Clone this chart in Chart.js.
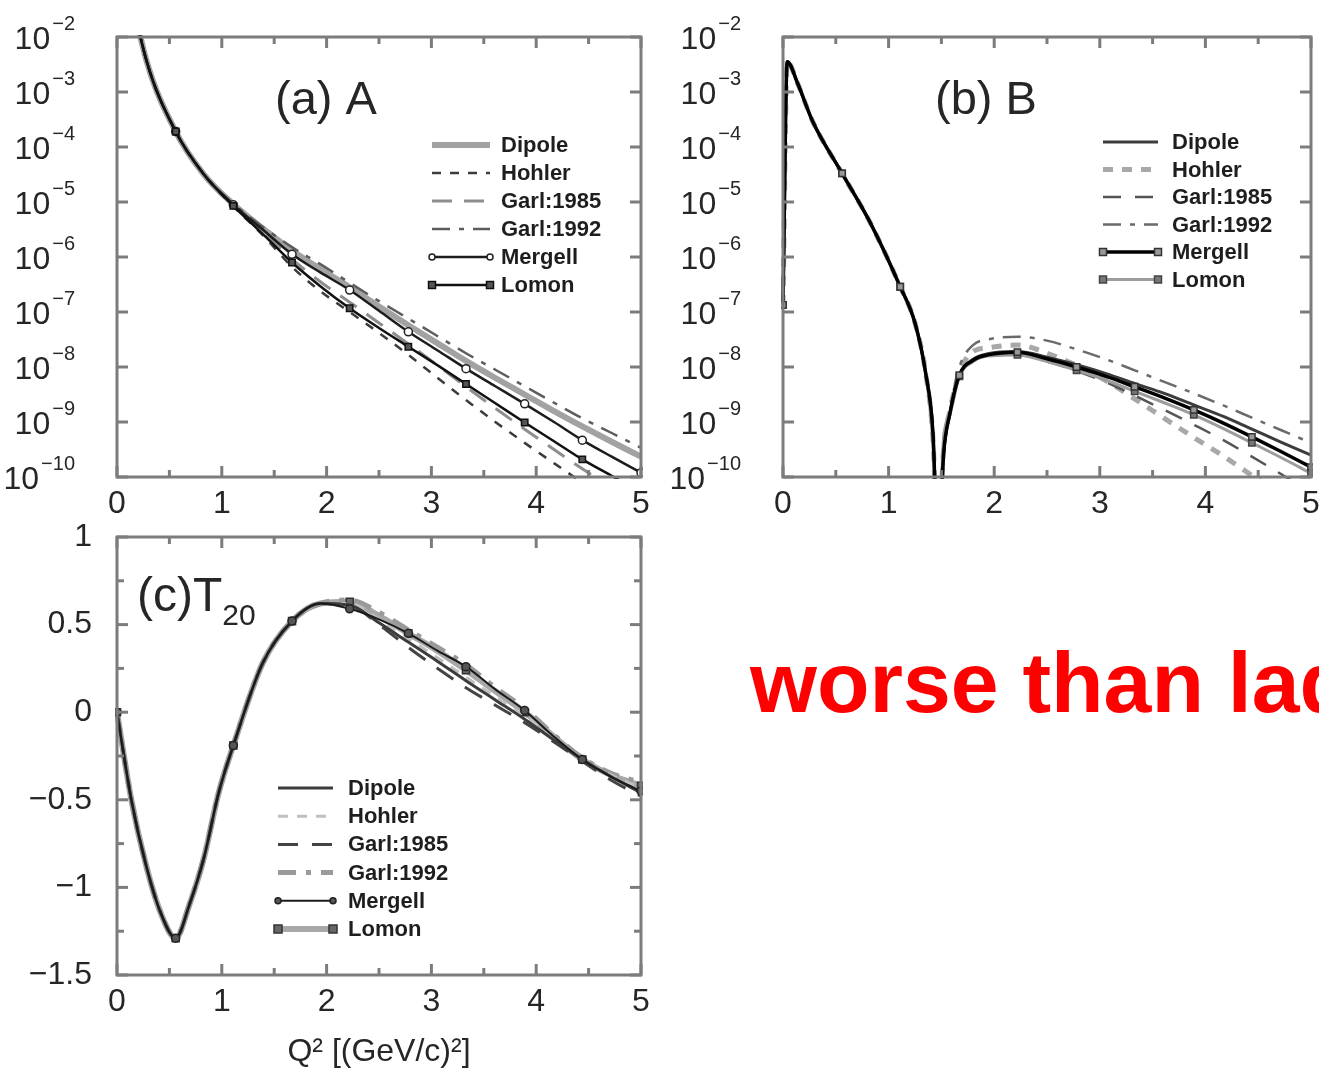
<!DOCTYPE html>
<html>
<head>
<meta charset="utf-8">
<script src="https://cdn.jsdelivr.net/npm/chart.js@4.4.1/dist/chart.umd.min.js"></script>
<style>
  html, body { margin: 0; padding: 0; background: #fff; overflow: hidden; }
  #page { position: relative; width: 1319px; height: 1071px; overflow: hidden; background: #fff; }
  canvas { position: absolute; }
  #note {
    position: absolute; left: 750px; top: 639px;
    font: bold 86px/86px "Liberation Sans", Arial, sans-serif;
    color: #ff0000; white-space: nowrap;
  }
</style>
</head>
<body>
<div id="page">
  <canvas id="panelA" width="660" height="520" style="left:0;top:0"></canvas>
  <canvas id="panelB" width="680" height="520" style="left:660px;top:0"></canvas>
  <canvas id="panelC" width="660" height="556" style="left:0;top:515px"></canvas>
  <div id="note">worse than ladder</div>
</div>
<script>
const FAMILY = '"Liberation Sans", Arial, Helvetica, sans-serif';
Chart.defaults.font.family = FAMILY;

const seriesNames = ['Dipole', 'Hohler', 'Garl:1985', 'Garl:1992', 'Mergell', 'Lomon'];
// Q^2 values where the two model curves carry symbols
const markerQ2 = [0, 0.56, 1.11, 1.67, 2.22, 2.78, 3.33, 3.89, 4.44, 5.0];

// (a) structure function A(Q^2)
const q2A = [0, 0.28, 0.56, 0.83, 1.11, 1.39, 1.67, 1.94, 2.22, 2.5, 2.78, 3.06, 3.33, 3.61, 3.89, 4.17, 4.44, 4.72, 5.0];
const aDipole  = [1, 3.80e-3, 1.91e-4, 3.16e-5, 9.12e-6, 3.31e-6, 1.32e-6, 6.03e-7, 2.82e-7, 1.26e-7, 5.75e-8, 2.69e-8, 1.29e-8, 6.31e-9, 3.16e-9, 1.58e-9, 8.32e-10, 4.37e-10, 2.34e-10];
const aHohler  = [1, 3.80e-3, 1.91e-4, 3.16e-5, 8.32e-6, 2.51e-6, 6.61e-7, 2.40e-7, 1.00e-7, 4.17e-8, 1.66e-8, 6.31e-9, 2.51e-9, 1.00e-9, 4.17e-10, 1.78e-10, 7.94e-11, 3.55e-11, 1.58e-11];
const aGarl85  = [1, 3.80e-3, 1.91e-4, 3.16e-5, 8.71e-6, 2.82e-6, 9.12e-7, 3.55e-7, 1.51e-7, 6.31e-8, 2.63e-8, 1.07e-8, 4.37e-9, 1.78e-9, 7.41e-10, 3.16e-10, 1.41e-10, 6.31e-11, 2.82e-11];
const aGarl92  = [1, 3.80e-3, 1.91e-4, 3.16e-5, 9.33e-6, 3.55e-6, 1.51e-6, 7.41e-7, 3.39e-7, 1.58e-7, 7.59e-8, 3.63e-8, 1.78e-8, 8.91e-9, 4.47e-9, 2.24e-9, 1.17e-9, 6.31e-10, 3.39e-10];
const aMergell = [1, 3.80e-3, 1.91e-4, 3.16e-5, 8.91e-6, 3.16e-6, 1.12e-6, 5.25e-7, 2.51e-7, 1.05e-7, 4.37e-8, 2.00e-8, 9.33e-9, 4.47e-9, 2.14e-9, 1.00e-9, 4.68e-10, 2.34e-10, 1.20e-10];
const aLomon   = [1, 3.80e-3, 1.91e-4, 3.16e-5, 8.51e-6, 2.63e-6, 7.94e-7, 2.95e-7, 1.17e-7, 5.13e-8, 2.34e-8, 1.07e-8, 4.90e-9, 2.19e-9, 9.77e-10, 4.47e-10, 2.09e-10, 1.05e-10, 5.25e-11];

// (b) structure function B(Q^2), with the diffraction minimum near 1.47
const q2B = [0, 0.04, 0.14, 0.28, 0.56, 0.83, 1.11, 1.25, 1.35, 1.42, 1.47, 1.52, 1.58, 1.67, 1.8, 1.94, 2.22, 2.5, 2.78, 3.06, 3.33, 3.61, 3.89, 4.17, 4.44, 4.72, 5.0];
const bDipole  = [1.35e-7, 3.55e-3, 1.41e-3, 2.95e-4, 3.31e-5, 4.07e-6, 2.88e-7, 6.31e-8, 7.94e-9, 6.31e-10, 3.16e-12, 2.51e-10, 1.41e-9, 7.08e-9, 1.38e-8, 1.74e-8, 1.91e-8, 1.51e-8, 1.10e-8, 7.59e-9, 5.01e-9, 3.31e-9, 2.04e-9, 1.26e-9, 7.41e-10, 4.27e-10, 2.51e-10];
const bHohler  = [1.35e-7, 3.55e-3, 1.41e-3, 2.95e-4, 3.31e-5, 4.07e-6, 2.88e-7, 6.31e-8, 7.94e-9, 5.00e-10, 3.16e-12, 3.16e-10, 1.58e-9, 7.94e-9, 1.91e-8, 2.24e-8, 2.51e-8, 1.78e-8, 1.07e-8, 5.62e-9, 2.63e-9, 1.17e-9, 5.25e-10, 2.40e-10, 1.07e-10, 4.79e-11, 2.00e-11];
const bGarl85  = [1.35e-7, 3.55e-3, 1.41e-3, 2.95e-4, 3.31e-5, 4.07e-6, 2.88e-7, 6.31e-8, 7.94e-9, 6.31e-10, 3.16e-12, 2.51e-10, 1.35e-9, 6.61e-9, 1.26e-8, 1.62e-8, 1.66e-8, 1.26e-8, 8.51e-9, 5.25e-9, 3.02e-9, 1.66e-9, 8.91e-10, 4.68e-10, 2.34e-10, 1.12e-10, 5.25e-11];
const bGarl92  = [1.35e-7, 3.55e-3, 1.41e-3, 2.95e-4, 3.31e-5, 4.07e-6, 2.88e-7, 6.31e-8, 7.94e-9, 6.31e-10, 3.16e-12, 2.51e-10, 1.58e-9, 1.00e-8, 2.51e-8, 3.16e-8, 3.55e-8, 3.02e-8, 2.09e-8, 1.38e-8, 8.71e-9, 5.37e-9, 3.31e-9, 2.00e-9, 1.20e-9, 7.08e-10, 4.17e-10];
const bMergell = [1.35e-7, 3.55e-3, 1.41e-3, 2.95e-4, 3.31e-5, 4.07e-6, 2.88e-7, 6.31e-8, 7.94e-9, 6.31e-10, 3.16e-12, 2.51e-10, 1.41e-9, 7.08e-9, 1.32e-8, 1.66e-8, 1.86e-8, 1.41e-8, 1.00e-8, 6.76e-9, 4.37e-9, 2.75e-9, 1.66e-9, 9.55e-10, 5.37e-10, 2.88e-10, 1.51e-10];
const bLomon   = [1.35e-7, 3.55e-3, 1.41e-3, 2.95e-4, 3.31e-5, 4.07e-6, 2.88e-7, 6.31e-8, 7.94e-9, 3.98e-10, 3.16e-12, 5.01e-10, 1.35e-9, 6.76e-9, 1.26e-8, 1.58e-8, 1.66e-8, 1.26e-8, 8.71e-9, 5.75e-9, 3.63e-9, 2.24e-9, 1.35e-9, 7.59e-10, 4.17e-10, 2.24e-10, 1.17e-10];

// (c) tensor polarization T20(Q^2)
const q2C = [0, 0.14, 0.28, 0.42, 0.56, 0.69, 0.83, 0.97, 1.11, 1.39, 1.67, 1.94, 2.22, 2.5, 2.78, 3.06, 3.33, 3.61, 3.89, 4.17, 4.44, 4.72, 5.0];
const tDipole  = [0, -0.51, -0.88, -1.15, -1.29, -1.10, -0.83, -0.46, -0.19, 0.28, 0.52, 0.62, 0.61, 0.51, 0.40, 0.29, 0.18, 0.07, -0.04, -0.16, -0.27, -0.37, -0.46];
const tHohler  = [0, -0.51, -0.88, -1.15, -1.29, -1.10, -0.83, -0.46, -0.19, 0.28, 0.52, 0.62, 0.62, 0.53, 0.42, 0.31, 0.20, 0.09, -0.02, -0.15, -0.27, -0.36, -0.43];
const tGarl85  = [0, -0.51, -0.88, -1.15, -1.29, -1.10, -0.83, -0.46, -0.19, 0.28, 0.52, 0.62, 0.61, 0.50, 0.37, 0.25, 0.14, 0.04, -0.06, -0.17, -0.28, -0.39, -0.48];
const tGarl92  = [0, -0.51, -0.88, -1.15, -1.29, -1.10, -0.83, -0.46, -0.19, 0.28, 0.52, 0.62, 0.64, 0.57, 0.47, 0.37, 0.27, 0.14, 0.02, -0.13, -0.26, -0.35, -0.40];
const tMergell = [0, -0.51, -0.88, -1.15, -1.29, -1.10, -0.83, -0.46, -0.19, 0.28, 0.52, 0.62, 0.59, 0.53, 0.45, 0.35, 0.26, 0.13, 0.01, -0.14, -0.27, -0.37, -0.45];
const tLomon   = [0, -0.51, -0.88, -1.15, -1.29, -1.10, -0.83, -0.46, -0.19, 0.28, 0.52, 0.62, 0.63, 0.55, 0.45, 0.35, 0.24, 0.12, 0.00, -0.14, -0.27, -0.36, -0.42];

// axis ticks
const q2Ticks = [0, 0.5, 1, 1.5, 2, 2.5, 3, 3.5, 4, 4.5, 5];
const decadeExponents = [-2, -3, -4, -5, -6, -7, -8, -9, -10];
const t20Major = [-1.5, -1, -0.5, 0, 0.5, 1];
const t20Minor = [-1.25, -0.75, -0.25, 0.25, 0.75];

// line styles per panel
const stylesA = {
  'Dipole':    { color: '#a2a2a2', width: 6,   dash: [], order: 6 },
  'Hohler':    { color: '#3c3c3c', width: 2.5, dash: [9, 9], order: 3 },
  'Garl:1985': { color: '#8e8e8e', width: 3,   dash: [20, 12], order: 4 },
  'Garl:1992': { color: '#5c5c5c', width: 2.5, dash: [18, 9, 5, 9], order: 2 },
  'Mergell':   { color: '#1c1c1c', width: 2.5, dash: [], order: 1, marker: 'circle', size: 3, fill: '#ffffff', edge: '#222' },
  'Lomon':     { color: '#111111', width: 2.5, dash: [], order: 0, marker: 'rect', size: 3.5, fill: '#555', edge: '#111' }
};
const stylesB = {
  'Dipole':    { color: '#3c3c3c', width: 3,   dash: [], order: 3 },
  'Hohler':    { color: '#a8a8a8', width: 5,   dash: [10, 9], order: 5 },
  'Garl:1985': { color: '#555555', width: 2.5, dash: [18, 14], order: 2 },
  'Garl:1992': { color: '#6a6a6a', width: 2.5, dash: [18, 9, 5, 9], order: 4 },
  'Mergell':   { color: '#000000', width: 3.5, dash: [], order: 0, marker: 'rect', size: 3.5, fill: '#999', edge: '#333' },
  'Lomon':     { color: '#9c9c9c', width: 3,   dash: [], order: 1, marker: 'rect', size: 3.5, fill: '#777', edge: '#444' }
};
const stylesC = {
  'Dipole':    { color: '#3c3c3c', width: 3, dash: [], order: 2 },
  'Hohler':    { color: '#c0c0c0', width: 3, dash: [10, 9], order: 4 },
  'Garl:1985': { color: '#444444', width: 3, dash: [20, 14], order: 3 },
  'Garl:1992': { color: '#9a9a9a', width: 5, dash: [18, 10, 5, 10], order: 5 },
  'Mergell':   { color: '#1a1a1a', width: 2, dash: [], order: 0, marker: 'circle', size: 3, fill: '#555', edge: '#222' },
  'Lomon':     { color: '#a8a8a8', width: 6, dash: [], order: 6, marker: 'rect', size: 4, fill: '#666', edge: '#333' }
};

const isMarker = q => markerQ2.some(m => Math.abs(m - q) < 0.006);

function drawSymbol(ctx, st, x, y) {
  ctx.save();
  ctx.setLineDash([]);
  ctx.lineWidth = 1.5;
  ctx.fillStyle = st.fill;
  ctx.strokeStyle = st.edge;
  ctx.beginPath();
  if (st.marker === 'rect') ctx.rect(x - st.size, y - st.size, st.size * 2, st.size * 2);
  else ctx.arc(x, y, st.size, 0, Math.PI * 2);
  ctx.fill();
  ctx.stroke();
  ctx.restore();
}

// box, inward ticks, log labels, panel title and legend
const framePlugin = {
  id: 'frame',
  afterDraw(chart, args, opts) {
    const { ctx, chartArea: a } = chart;
    const xs = chart.scales.x, ys = chart.scales.y;
    ctx.save();
    ctx.strokeStyle = '#7c7c7c';
    ctx.lineWidth = 3;
    ctx.setLineDash([]);
    const seg = (x1, y1, x2, y2) => { ctx.beginPath(); ctx.moveTo(x1, y1); ctx.lineTo(x2, y2); ctx.stroke(); };

    q2Ticks.forEach(v => {
      const px = xs.getPixelForValue(v);
      const len = Number.isInteger(v) ? 11 : 7;
      seg(px, a.bottom, px, a.bottom - len);
      seg(px, a.top, px, a.top + len);
    });
    opts.yMajor.forEach(v => {
      const py = ys.getPixelForValue(v);
      seg(a.left, py, a.left + 11, py);
      seg(a.right, py, a.right - 11, py);
    });
    (opts.yMinor || []).forEach(v => {
      const py = ys.getPixelForValue(v);
      seg(a.left, py, a.left + 7, py);
      seg(a.right, py, a.right - 7, py);
    });
    ctx.strokeRect(a.left, a.top, a.right - a.left, a.bottom - a.top);

    ctx.fillStyle = '#262626';
    if (opts.logLabels) {
      decadeExponents.forEach(e => {
        const py = ys.getPixelForValue(Math.pow(10, e));
        const right = a.left - 42;
        ctx.textAlign = 'right';
        ctx.textBaseline = 'alphabetic';
        ctx.font = '20px ' + FAMILY;
        const exp = '\u2212' + Math.abs(e);
        ctx.fillText(exp, right, py - 7);
        const w = ctx.measureText(exp).width;
        ctx.font = '32px ' + FAMILY;
        ctx.fillText('10', right - w - 2, py + 12);
      });
    }

    // panel title
    ctx.textAlign = 'left';
    ctx.textBaseline = 'alphabetic';
    let tx = opts.title.x;
    opts.title.parts.forEach(p => {
      ctx.font = p.size + 'px ' + FAMILY;
      ctx.fillText(p.text, tx, opts.title.y + (p.dy || 0));
      tx += ctx.measureText(p.text).width;
    });

    // legend
    const lg = opts.legend;
    chart.data.datasets.forEach((ds, i) => {
      const y = lg.y0 + i * lg.dy;
      ctx.save();
      ctx.strokeStyle = ds.borderColor;
      ctx.lineWidth = ds.borderWidth;
      ctx.setLineDash(ds.borderDash);
      seg(lg.x1, y, lg.x2, y);
      ctx.restore();
      if (ds.symbol.marker) {
        drawSymbol(ctx, ds.symbol, lg.x1, y);
        drawSymbol(ctx, ds.symbol, lg.x2, y);
      }
      ctx.fillStyle = '#1e1e1e';
      ctx.font = 'bold 22px ' + FAMILY;
      ctx.textAlign = 'left';
      ctx.textBaseline = 'middle';
      ctx.fillText(ds.label, lg.tx, y + 1);
    });
    ctx.restore();
  }
};

// axis boxes keep fixed sizes and claim no extra room for edge labels
function fixBox(s, size) {
  if (s.isHorizontal()) s.height = size; else s.width = size;
  s.paddingTop = 0;
  s.paddingBottom = 0;
  s.paddingLeft = 0;
  s.paddingRight = 0;
}

function buildPanel(canvasId, cfg) {
  const datasets = cfg.series.map((values, i) => {
    const name = seriesNames[i];
    const st = cfg.styles[name];
    return {
      label: name,
      data: cfg.q2.map((q, j) => ({ x: q, y: values[j] })),
      borderColor: st.color,
      borderWidth: st.width,
      borderDash: st.dash,
      order: st.order,
      symbol: st,
      fill: false,
      clip: 2,
      cubicInterpolationMode: 'monotone',
      pointStyle: st.marker === 'rect' ? 'rect' : 'circle',
      pointRadius: ctx => (st.marker && ctx.raw && isMarker(ctx.raw.x)) ? st.size + 1 : 0,
      pointHoverRadius: 0,
      pointBackgroundColor: st.fill || st.color,
      pointBorderColor: st.edge || st.color,
      pointBorderWidth: 1.5
    };
  });

  const xScale = {
    type: 'linear', min: 0, max: 5,
    ticks: { stepSize: 1, padding: 8, color: '#262626', font: { size: 32 }, maxRotation: 0 },
    grid: { display: false, drawTicks: false },
    border: { display: false },
    afterFit: s => fixBox(s, cfg.xHeight)
  };
  if (cfg.xTitle) {
    xScale.title = { display: true, text: cfg.xTitle, color: '#262626', font: { size: 32 }, padding: { top: 0, bottom: 0 } };
  }

  const yScale = cfg.log ? {
    type: 'logarithmic', min: 1e-10, max: 1e-2,
    ticks: { display: false },
    grid: { display: false, drawTicks: false },
    border: { display: false },
    afterFit: s => fixBox(s, cfg.yWidth)
  } : {
    type: 'linear', min: -1.5, max: 1,
    afterBuildTicks: s => { s.ticks = t20Major.map(v => ({ value: v })); },
    ticks: {
      padding: 25, color: '#262626', font: { size: 32 },
      callback: v => v === 0 ? '0' : (v < 0 ? '\u2212' : '') + Math.abs(v)
    },
    grid: { display: false, drawTicks: false },
    border: { display: false },
    afterFit: s => fixBox(s, cfg.yWidth)
  };

  return new Chart(document.getElementById(canvasId), {
    type: 'line',
    data: { datasets },
    options: {
      responsive: false,
      animation: false,
      devicePixelRatio: 1,
      layout: { padding: { top: cfg.padTop, right: cfg.padRight, left: 0, bottom: 0 } },
      scales: { x: xScale, y: yScale },
      plugins: {
        legend: { display: false },
        tooltip: { enabled: false },
        frame: cfg.frame
      }
    },
    plugins: [framePlugin]
  });
}

buildPanel('panelA', {
  q2: q2A, log: true, styles: stylesA,
  series: [aDipole, aHohler, aGarl85, aGarl92, aMergell, aLomon],
  yWidth: 117, xHeight: 43, padTop: 37, padRight: 19,
  frame: {
    logLabels: true,
    yMajor: decadeExponents.map(e => Math.pow(10, e)),
    title: { x: 275, y: 114, parts: [{ text: '(a) A', size: 47 }] },
    legend: { x1: 432, x2: 490, tx: 501, y0: 145, dy: 28 }
  }
});

buildPanel('panelB', {
  q2: q2B, log: true, styles: stylesB,
  series: [bDipole, bHohler, bGarl85, bGarl92, bMergell, bLomon],
  yWidth: 123, xHeight: 43, padTop: 37, padRight: 29,
  frame: {
    logLabels: true,
    yMajor: decadeExponents.map(e => Math.pow(10, e)),
    title: { x: 275, y: 114, parts: [{ text: '(b) B', size: 47 }] },
    legend: { x1: 443, x2: 498, tx: 512, y0: 142, dy: 27.5 }
  }
});

buildPanel('panelC', {
  q2: q2C, log: false, styles: stylesC,
  series: [tDipole, tHohler, tGarl85, tGarl92, tMergell, tLomon],
  yWidth: 117, xHeight: 96, padTop: 22, padRight: 19,
  xTitle: 'Q\u00b2 [(GeV/c)\u00b2]',
  frame: {
    yMajor: t20Major,
    yMinor: t20Minor,
    title: { x: 137, y: 96, parts: [{ text: '(c)T', size: 48 }, { text: '20', size: 30, dy: 14 }] },
    legend: { x1: 278, x2: 333, tx: 348, y0: 273, dy: 28.2 }
  }
});
</script>
</body>
</html>
